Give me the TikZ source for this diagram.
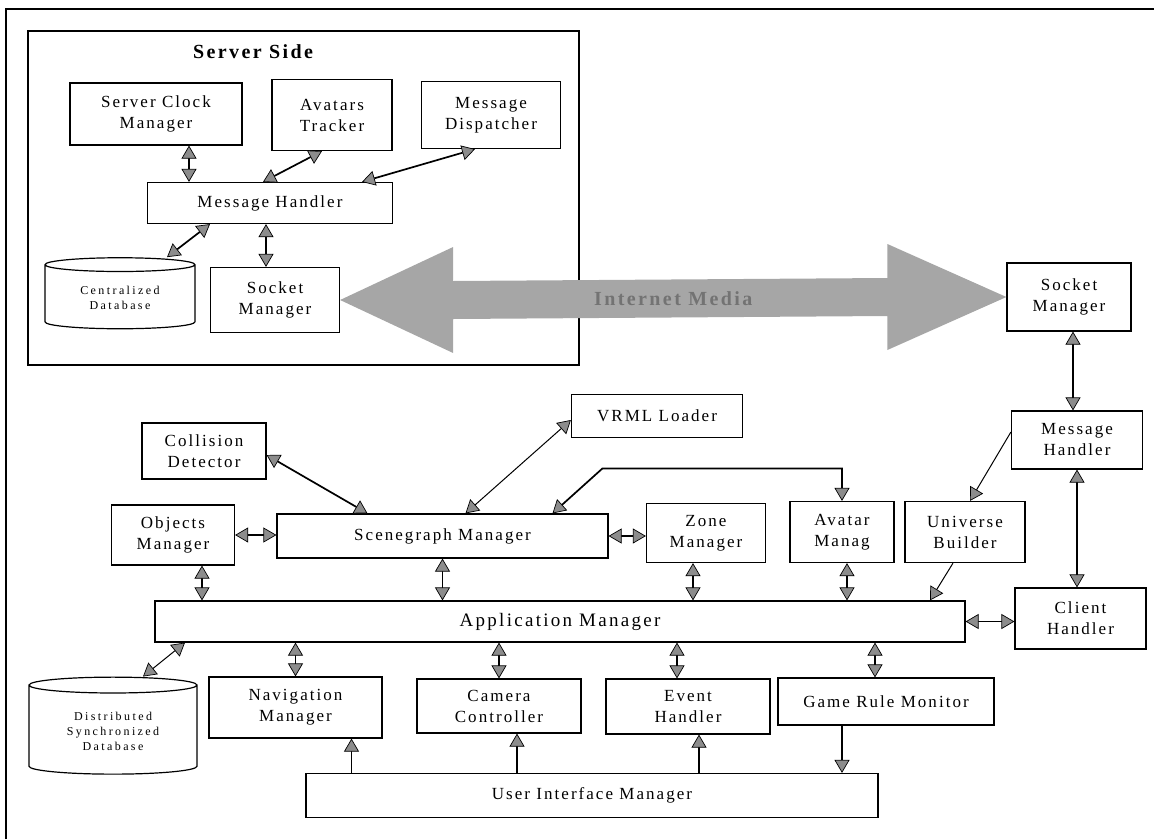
\documentclass[tikz,border=0pt]{standalone}
\usepackage{fontspec}
\setmainfont{Liberation Serif}[LetterSpace=12]
\usetikzlibrary{arrows.meta,shapes.geometric}

\begin{document}
\begin{tikzpicture}[x=1pt,y=-1pt,
  font=\fontsize{17}{21}\selectfont,
  gtip/.tip={Triangle[length=13pt,width=15pt,fill=black!45,line width=0.7pt]},
  box/.style={draw,line width=1.2pt,align=center,inner sep=2pt},
  db/.style={draw,line width=1.2pt,cylinder,shape border rotate=90,aspect=0.16,align=center,
    font=\fontsize{12}{15}\selectfont\addfontfeature{LetterSpace=20}},
  link/.style={line width=1.7pt,gtip-gtip},
  linkto/.style={line width=1.7pt,-gtip},
  thinlink/.style={line width=1pt,gtip-gtip},
  thinto/.style={line width=1pt,-gtip},
  media/.style={fill=black!35}]
\useasboundingbox (0,0) rectangle (1154,839);
\draw[line width=1.2pt] (6,839) -- (6,9) -- (1154,9);
% server side
\draw[line width=1.2pt] (28,31) rectangle (579,365);
\node[font=\bfseries\fontsize{20}{24}\selectfont] (title) at (253,52) {Server Side};
\node[box,minimum width=172pt,minimum height=62pt] (scm) at (156,114) {Server Clock\\Manager};
\node[box,minimum width=120pt,minimum height=71pt] (at) at (332,115) {Avatars\\Tracker};
\node[box,minimum width=139pt,minimum height=67pt] (md) at (491,115) {Message\\Dispatcher};
\node[box,minimum width=245pt,minimum height=41pt] (mhs) at (270,203) {Message Handler};
\node[db,minimum width=150pt,minimum height=71pt] (cdb) at (120,298) {Centralized\\Database};
\node[box,minimum width=129pt,minimum height=65pt] (sms) at (275,300) {Socket\\Manager};
% client side
\node[box,minimum width=124pt,minimum height=68pt] (smc) at (1069,297) {Socket\\Manager};
\node[box,minimum width=131pt,minimum height=58pt] (mhc) at (1077,440) {Message\\Handler};
\node[box,minimum width=171pt,minimum height=43pt] (vrml) at (657,416) {VRML Loader};
\node[box,minimum width=124pt,minimum height=56pt] (cd) at (204,451) {Collision\\Detector};
\node[box,minimum width=123pt,minimum height=60pt] (om) at (173,535) {Objects\\Manager};
\node[box,minimum width=331pt,minimum height=44pt] (sgm) at (442.5,536) {Scenegraph Manager};
\node[box,minimum width=119pt,minimum height=59pt] (zm) at (706,533) {Zone\\Manager};
\node[box,minimum width=104pt,minimum height=61pt] (avm) at (842,532) {Avatar\\Manag};
\node[box,minimum width=120pt,minimum height=61pt] (ub) at (965,532) {Universe\\Builder};
\node[box,minimum width=810pt,minimum height=41pt,font=\fontsize{19}{23}\selectfont] (appm) at (560,621.5) {Application Manager};
\node[box,minimum width=131pt,minimum height=61pt] (ch) at (1080.5,618.5) {Client\\Handler};
\node[db,minimum width=168pt,minimum height=97pt] (dsd) at (113,731) {Distributed\\Synchronized\\Database};
\node[box,minimum width=173pt,minimum height=61pt] (nm) at (295.5,707.5) {Navigation\\Manager};
\node[box,minimum width=164pt,minimum height=54pt] (cc) at (499,706) {Camera\\Controller};
\node[box,minimum width=164pt,minimum height=55pt] (eh) at (688,706.5) {Event\\Handler};
\node[box,minimum width=216pt,minimum height=47pt] (grm) at (886,701.5) {Game Rule Monitor};
\node[box,minimum width=572pt,minimum height=44pt] (uim) at (592,795.5) {User Interface Manager};
% server links
\draw[link] ([xshift=33pt]scm.south) -- ([xshift=33pt]scm.south |- mhs.north);
\draw[link] ([xshift=-7pt]mhs.north) -- ([xshift=-10pt]at.south);
\draw[link] ([xshift=92pt]mhs.north) -- ([xshift=-16pt]md.south);
\draw[link] ([xshift=47pt]cdb.north) -- ([xshift=-60pt]mhs.south);
\draw[link] ([xshift=-4pt]mhs.south) -- ([xshift=-4pt]mhs.south |- sms.north);
% internet media
\fill[media] (sms.east) -- ++(113,-53) -- ++(0,34) -- ([shift={(-119,-19)}]smc.west)
  -- ++(0,-34) -- (smc.west) -- ++(-119,53) -- ++(0,-34) -- ([shift={(113,19)}]sms.east)
  -- ++(0,34) -- cycle;
\path (sms.east) -- (smc.west) node[midway,font=\bfseries\fontsize{20}{24}\selectfont,text=black!55] (im) {Internet Media};
% client links
\draw[link] ([xshift=4pt]smc.south) -- ([xshift=4pt]smc.south |- mhc.north);
\draw[thinto] ([yshift=8pt]mhc.west) -- ([xshift=5pt]ub.north);
\draw[link] (mhc.south) -- (mhc.south |- ch.north);
\draw[link] (appm.east) -- (appm.east -| ch.west);
\draw[thinto] ([xshift=-12pt]ub.south) -- ([xshift=370pt]appm.north);
\draw[link] ([xshift=5pt]avm.south) -- ([xshift=5pt]avm.south |- appm.north);
\draw[link] ([xshift=-13pt]zm.south) -- ([xshift=-13pt]zm.south |- appm.north);
\draw[link] (sgm.south) -- (sgm.south |- appm.north);
\draw[link] ([xshift=29pt]om.south) -- ([xshift=29pt]om.south |- appm.north);
\draw[link] (om.east) -- (om.east -| sgm.west);
\draw[link] ([yshift=-4pt]cd.east) -- ([xshift=-75pt]sgm.north);
\draw[thinlink] ([yshift=-4pt]vrml.west) -- ([xshift=23pt]sgm.north);
\draw[link] ([xshift=110pt]sgm.north) -- ++(50,-45) -| (avm.north);
\draw[link] (sgm.east) -- (sgm.east -| zm.west);
\draw[thinlink] ([xshift=30pt]dsd.north) -- ([xshift=-375pt]appm.south);
\draw[link] (appm.south -| nm.north) -- (nm.north);
\draw[link] (appm.south -| cc.north) -- (cc.north);
\draw[link] ([xshift=-11pt]eh.north |- appm.south) -- ([xshift=-11pt]eh.north);
\draw[link] ([xshift=-11pt]grm.north |- appm.south) -- ([xshift=-11pt]grm.north);
\draw[linkto] ([xshift=56pt]nm.south |- uim.north) -- ([xshift=56pt]nm.south);
\draw[linkto] ([xshift=18pt]cc.south |- uim.north) -- ([xshift=18pt]cc.south);
\draw[linkto] ([xshift=11pt]eh.south |- uim.north) -- ([xshift=11pt]eh.south);
\draw[linkto] ([xshift=-44pt]grm.south) -- ([xshift=-44pt]grm.south |- uim.north);
\end{tikzpicture}
\end{document}
